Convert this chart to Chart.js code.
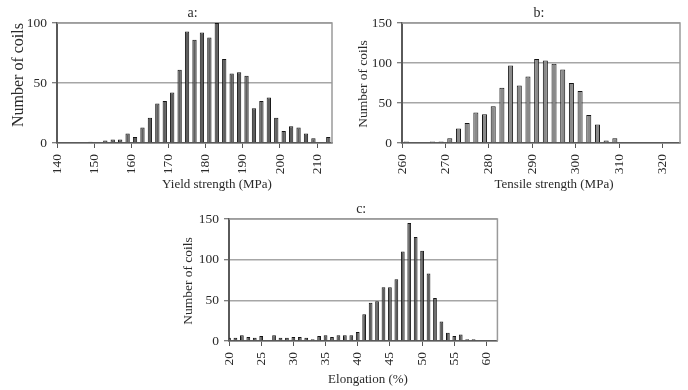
<!DOCTYPE html>
<html><head><meta charset="utf-8">
<script src="https://cdn.jsdelivr.net/npm/chart.js@4.4.1/dist/chart.umd.min.js"></script>
<style>
html,body{margin:0;padding:0;background:#fff;}
body{width:688px;height:390px;position:relative;overflow:hidden;}
canvas{position:absolute;}
</style></head><body>
<canvas id="ca" width="340" height="195" style="left:0;top:0"></canvas>
<canvas id="cb" width="343" height="195" style="left:345px;top:0"></canvas>
<canvas id="cc" width="337" height="194" style="left:172px;top:196px"></canvas>
<script>
// ---- data ----
const yieldBins   = [149,151,153,155,157,159,161,163,165,167,169,171,173,175,177,179,181,183,185,187,189,191,193,195,197,199,201,203,205,207,209,211,213];
const yieldCounts = [1,0,2,3,3,8,5,13,21,33,35,42,61,93,86,92,88,100,70,58,59,56,29,35,38,21,10,14,13,8,4,0,5];
const yieldTicks  = [140,150,160,170,180,190,200,210];

const tensileBins   = [261,263,265,267,269,271,273,275,277,279,281,283,285,287,289,291,293,295,297,299,301,303,305,307,309,311,313,315,317,319];
const tensileCounts = [2,1,0,2,2,6,18,25,38,36,46,69,97,72,83,105,103,99,92,75,65,35,23,3,6,0,1,0,0,1];
const tensileTicks  = [260,270,280,290,300,310,320];

const elongBins   = [20,21,22,23,24,25,26,27,28,29,30,31,32,33,34,35,36,37,38,39,40,41,42,43,44,45,46,47,48,49,50,51,52,53,54,55,56,57,58];
const elongCounts = [4,4,7,5,4,6,0,7,4,4,5,5,4,2,6,7,5,7,7,7,11,33,47,49,66,66,76,110,145,128,111,83,53,24,10,6,8,2,2];
const elongTicks  = [20,25,30,35,40,45,50,55,60];

const countTicksA  = [0,50,100];
const countTicksBC = [0,50,100,150];

const FONT = "'Liberation Serif','Times New Roman',serif";
const TXT = '#2a2a2a';

const panelPlugin = {
  id: 'panel',
  beforeDatasetsDraw(chart, args, opts) {
    const {ctx, chartArea: a} = chart;
    ctx.save();
    ctx.strokeStyle = '#9a9a9a';
    ctx.lineWidth = 1.5;
    ctx.beginPath();
    ctx.moveTo(a.left, a.top);
    ctx.lineTo(a.right, a.top);
    ctx.lineTo(a.right, a.bottom);
    ctx.stroke();
    ctx.restore();
  },
  afterDraw(chart, args, opts) {
    const {ctx, chartArea: a} = chart;
    ctx.save();
    ctx.fillStyle = TXT;
    ctx.textAlign = 'center';
    // panel letter
    ctx.font = '14px ' + FONT;
    ctx.textBaseline = 'alphabetic';
    ctx.fillText(opts.text, (a.left + a.right) / 2 - 2, a.top - 6);
    // x-axis title
    ctx.textBaseline = 'middle';
    ctx.font = opts.xSize + 'px ' + FONT;
    ctx.fillText(opts.xTitle, opts.xAt[0], opts.xAt[1]);
    // y-axis title
    ctx.translate(opts.yAt[0], opts.yAt[1]);
    ctx.rotate(-Math.PI / 2);
    ctx.font = opts.ySize + 'px ' + FONT;
    ctx.fillText('Number of coils', 0, 0);
    ctx.restore();
  }
};

function build(id, p) {
  return new Chart(document.getElementById(id), {
    type: 'bar',
    data: {
      datasets: [{
        data: p.bins.map((b, i) => ({x: b, y: p.counts[i]})),
        backgroundColor: p.fill,
        borderColor: '#151515',
        borderWidth: 1,
        barPercentage: 0.58,
        categoryPercentage: 1
      }]
    },
    options: {
      responsive: false,
      animation: false,
      events: [],
      layout: {padding: {top: 23, right: 8, left: 0, bottom: 0}},
      plugins: {
        legend: {display: false},
        tooltip: {enabled: false},
        panel: {text: p.title, xTitle: p.xTitle, xAt: p.xAt, xSize: 13, yAt: p.yAt, ySize: p.ySize}
      },
      scales: {
        x: {
          type: 'linear',
          offset: false,
          min: p.xMin, max: p.xMax,
          afterBuildTicks: s => { s.ticks = p.xTicks.map(v => ({value: v})); },
          afterFit: s => { s.height = p.xAxisH; },
          ticks: {autoSkip: false, minRotation: 90, maxRotation: 90, padding: 6, color: TXT,
                  font: {family: FONT, size: 13.5}},
          grid: {drawOnChartArea: false, offset: false, drawTicks: true, tickLength: 5, tickColor: '#555', tickWidth: 1},
          border: {display: true, color: '#5a5a5a', width: 1.5},
          title: {display: false}
        },
        y: {
          min: 0, max: p.yMax,
          afterBuildTicks: s => { s.ticks = p.yTicks.map(v => ({value: v})); },
          afterFit: s => { s.width = 57; },
          ticks: {padding: 5, color: TXT, font: {family: FONT, size: 13.5}},
          grid: {color: '#a6a6a6', lineWidth: 1.5, tickLength: 5, tickColor: '#555', tickWidth: 1},
          border: {display: true, color: '#5a5a5a', width: 2},
          title: {display: false}
        }
      }
    },
    plugins: [panelPlugin]
  });
}

build('ca', {bins: yieldBins, counts: yieldCounts, xTicks: yieldTicks, yTicks: countTicksA,
  xMin: 140, xMax: 214, yMax: 100, title: 'a:', xTitle: 'Yield strength (MPa)',
  fill: '#5e5e5e', xAxisH: 52, xAt: [217, 185], yAt: [19, 75], ySize: 16});
build('cb', {bins: tensileBins, counts: tensileCounts, xTicks: tensileTicks, yTicks: countTicksBC,
  xMin: 260, xMax: 324, yMax: 150, title: 'b:', xTitle: 'Tensile strength (MPa)',
  fill: '#8a8a8a', xAxisH: 52, xAt: [209, 185], yAt: [18.5, 84], ySize: 13.5});
build('cc', {bins: elongBins, counts: elongCounts, xTicks: elongTicks, yTicks: countTicksBC,
  xMin: 20, xMax: 61.7, yMax: 150, title: 'c:', xTitle: 'Elongation (%)',
  fill: '#5e5e5e', xAxisH: 49, xAt: [196, 184], yAt: [16, 85], ySize: 13.5});
</script>
</body></html>
